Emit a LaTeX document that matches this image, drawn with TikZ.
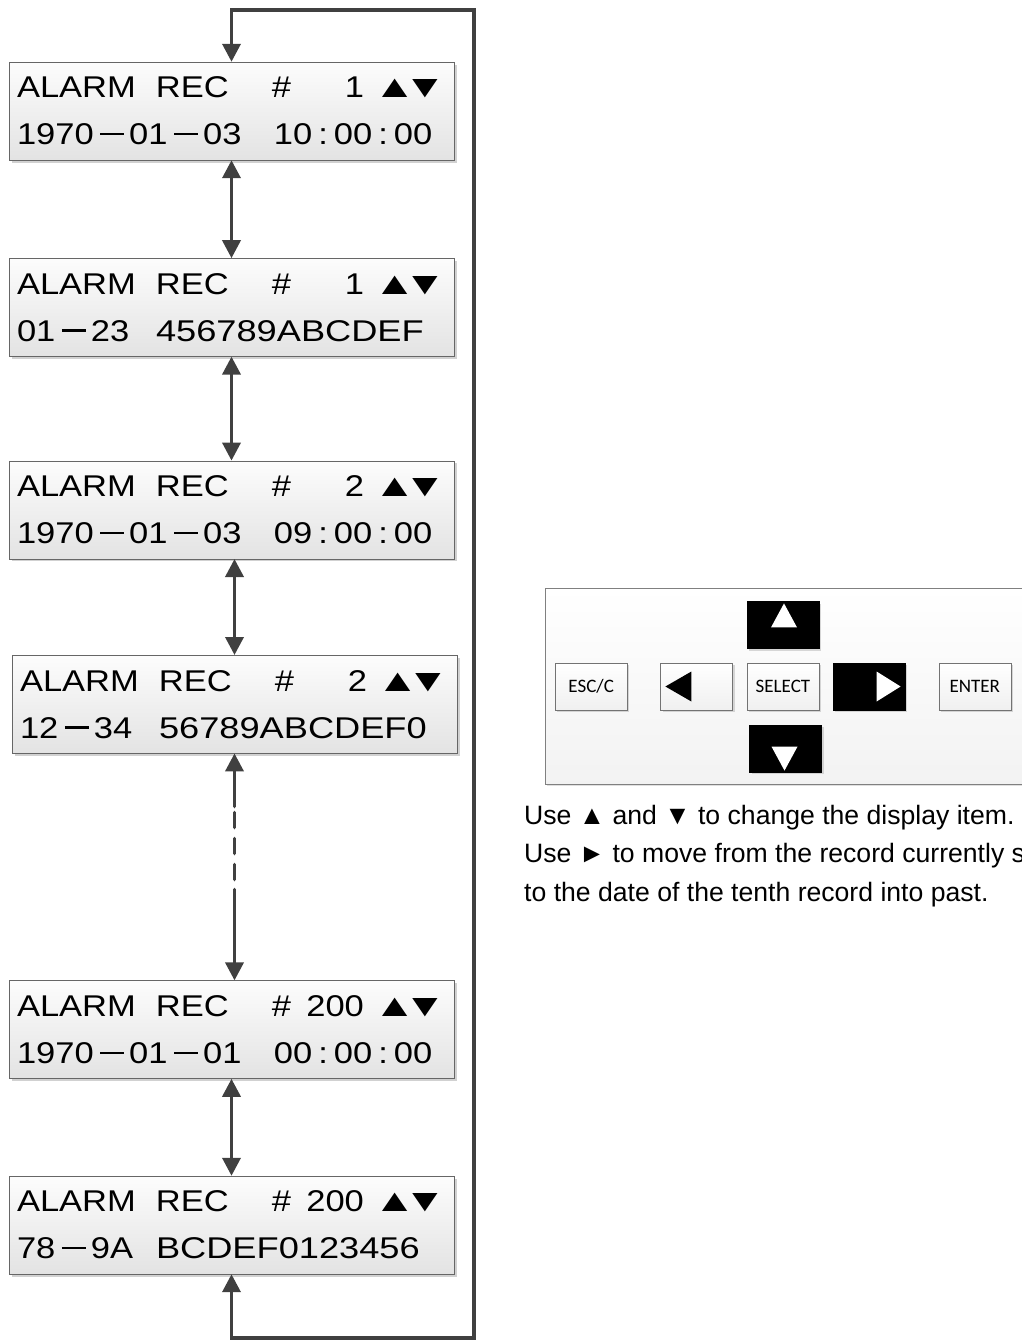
\documentclass[tikz,border=0pt]{standalone}
\usepackage{fontspec}
\setmainfont{Liberation Sans}
\newfontfamily\lcdfont[FakeStretch=1.15]{Liberation Sans}
\newfontfamily\keyfont{Carlito}
\usepackage{graphicx}
\usepackage{xcolor}
\usepackage{tikz}
\usetikzlibrary{arrows.meta,positioning,shadows}

\newcommand{\lcdbar}{\hspace{6.5pt}\rule[9.5pt]{24pt}{2.4pt}\hspace{5pt}}
\newcommand{\lcdcol}{\hspace{6pt}:\hspace{6pt}}
\newcommand{\lcdtri}[1]{\scalebox{1.25}[1.05]{#1}}
\newcommand{\rechead}[1]{\makebox[139pt][l]{ALARM}\makebox[116pt][l]{REC}\makebox[92pt][l]{\#\hfill#1}\hspace{9.5pt}\makebox[30pt][l]{\lcdtri{▲}}\makebox[0pt][l]{\lcdtri{▼}}}
\newcommand{\reccode}[2]{\makebox[139pt][l]{#1}\scalebox{1.05}[1]{#2}}
\newcommand{\recdate}[2]{\makebox[257pt][l]{#1}#2}

\tikzset{
  lcd/.style={
    rectangle,
    draw=black!60,
    top color=black!1,
    bottom color=black!11,
    minimum width=445pt,
    minimum height=98pt,
    inner xsep=8pt,
    text width=429pt,
    align=left,
    font=\lcdfont\fontsize{30}{47}\selectfont,
    drop shadow={shadow xshift=2.5pt, shadow yshift=-2.5pt, fill=black!30, opacity=0.6}
  },
  pad/.style={
    rectangle,
    draw=black!50,
    top color=white,
    bottom color=black!5,
    minimum width=560pt,
    minimum height=196pt,
    drop shadow={shadow xshift=2pt, shadow yshift=-2pt, fill=black!25, opacity=0.5}
  },
  key/.style={
    rectangle,
    draw=black!55,
    top color=white,
    bottom color=black!6,
    minimum width=72pt,
    minimum height=47pt,
    inner sep=0pt,
    font=\keyfont\fontsize{19}{22}\selectfont,
    drop shadow={shadow xshift=2pt, shadow yshift=-2pt, fill=black!30, opacity=0.5}
  },
  darkkey/.style={
    key,
    fill=black,
    top color=black,
    bottom color=black,
    draw=black
  },
  note/.style={
    align=left,
    inner sep=0pt,
    font=\fontsize{26.6}{38.5}\selectfont
  },
  biarrow/.style={{Triangle[length=18pt,width=18pt]}-{Triangle[length=18pt,width=18pt]}, line width=3.6pt, draw=black!75}
}

\begin{document}
\begin{tikzpicture}[x=1pt, y=-1pt]
  \useasboundingbox (0,0) rectangle (1022,1341);
  \clip (0,0) rectangle (1022,1341);

  \node[lcd] (rec1) at (231.5,111) {\rechead{1}\\\recdate{1970\lcdbar01\lcdbar03}{10\lcdcol00\lcdcol00}};
  \node[lcd, below=98pt of rec1] (rec2) {\rechead{1}\\\reccode{01\lcdbar23}{456789ABCDEF}};
  \node[lcd, below=104pt of rec2] (rec3) {\rechead{2}\\\recdate{1970\lcdbar01\lcdbar03}{09\lcdcol00\lcdcol00}};
  \node[lcd, below=96pt of rec3, xshift=3pt] (rec4) {\rechead{2}\\\reccode{12\lcdbar34}{56789ABCDEF0}};
  \node[lcd, below=227pt of rec4, xshift=-3pt] (rec5) {\rechead{200}\\\recdate{1970\lcdbar01\lcdbar01}{00\lcdcol00\lcdcol00}};
  \node[lcd, below=97pt of rec5] (rec6) {\rechead{200}\\\reccode{78\lcdbar9A}{BCDEF0123456}};

  \coordinate (loopbr) at (474,1338);
  \coordinate (looptr) at (474,10);

  \draw[biarrow] (rec1) -- (rec2);
  \draw[biarrow] (rec2) -- (rec3);
  \draw[biarrow] (rec3.south -| rec4.north) -- (rec4.north);
  \draw[biarrow, line cap=round, dash pattern=on 36pt off 6pt on 15pt off 11pt on 15pt off 11pt on 15pt off 10pt on 300pt] (rec4.south) -- (rec4.south |- rec5.north);
  \draw[biarrow] (rec5) -- (rec6);
  \draw[biarrow] (rec6.south) |- (loopbr) -- (looptr) -| (rec1.north);

  \node[pad, anchor=north west] (pad) at (545,588) {};
  \node[key] (select) at (783,686.5) {SELECT};
  \node[key, left=14pt of select] (leftkey) {};
  \node[key, left=33pt of leftkey] (esc) {ESC/C};
  \node[darkkey, right=14pt of select] (rightkey) {};
  \node[key, right=33pt of rightkey] (enter) {ENTER};
  \node[darkkey, above=14pt of select] (upkey) {};
  \node[darkkey, below=15pt of select, xshift=2.5pt] (downkey) {};

  \fill[black] (leftkey.west) ++(5,0) -- ++(26,-15) -- ++(0,30) -- cycle;
  \fill[white] (rightkey.east) ++(-5,0) -- ++(-24,-15) -- ++(0,30) -- cycle;
  \fill[white] (upkey.north) ++(1,2) -- ++(13,24) -- ++(-26,0) -- cycle;
  \fill[white] (downkey.south) ++(-1,-2) -- ++(13,-24) -- ++(-26,0) -- cycle;

  \node[note, anchor=base west] (usage) at (524,901) {Use ▲ and ▼ to change the display item.\\Use ► to move from the record currently s\\to the date of the tenth record into past.};
\end{tikzpicture}
\end{document}
